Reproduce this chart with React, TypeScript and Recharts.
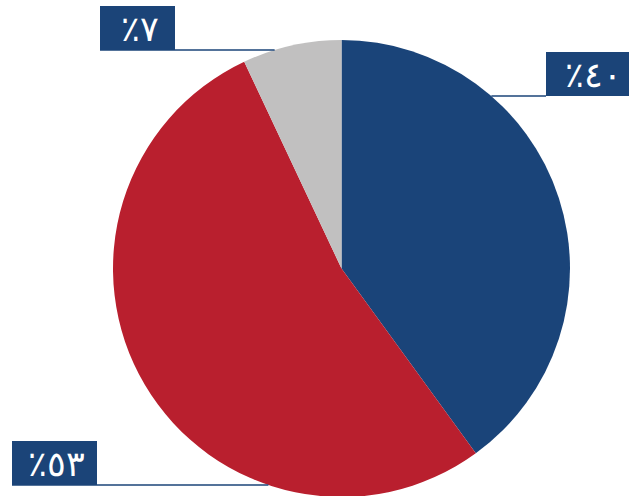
import { Cell, Pie, PieChart } from "recharts";

const shares = ["blue", "red", "gray"];
const shareValues = [40, 53, 7];
const shareColors = ["#1A4479", "#B91F2E", "#C1C0C0"];

const W = 629;
const H = 496;
const BOX_FILL = "#1B4478";

// label boxes, offsets from the pie centre; lineDy is the underline / leader height
const labelLayout = [
  { side: 1, lineDy: -172.5, boxDx: 204.5, boxW: 90 },
  { side: -1, lineDy: 216.5, boxDx: -329.5, boxW: 85 },
  { side: -1, lineDy: -218.5, boxDx: -241.5, boxW: 75 },
];

const arabicDigits = "٠١٢٣٤٥٦٧٨٩";
const toArabic = (n: number) =>
  String(n)
    .split("")
    .map((d) => arabicDigits[Number(d)])
    .join("");

const data = shares.map((name, i) => ({ name, value: shareValues[i] }));

function renderLabel(props: any) {
  const { cx, cy, outerRadius, index, value } = props;
  const l = labelLayout[index];
  const lineY = cy + l.lineDy;
  const edgeX = cx + l.side * Math.sqrt(Math.max(outerRadius * outerRadius - l.lineDy * l.lineDy, 0));
  const boxX = cx + l.boxDx;
  const boxH = 44;
  const lineStart = l.side > 0 ? edgeX : boxX;
  const lineEnd = l.side > 0 ? boxX : edgeX;
  return (
    <g key={`lbl-${index}`}>
      <line x1={lineStart} y1={lineY} x2={lineEnd} y2={lineY} stroke={BOX_FILL} strokeWidth={1.5} />
      <rect x={boxX} y={lineY - boxH} width={l.boxW} height={boxH} fill={BOX_FILL} />
      <text
        x={boxX + l.boxW / 2 + 2}
        y={lineY - boxH / 2 + 1}
        textAnchor="middle"
        dominantBaseline="central"
        fill="#fff"
        fontSize={35}
        fontWeight={300}
        fontFamily="DejaVu Sans"
      >
        {"٪" + toArabic(value)}
      </text>
    </g>
  );
}

export default function App() {
  return (
    <div style={{ position: "absolute", left: 0, top: 0, width: W, height: H, background: "#fff" }}>
      <PieChart width={W} height={H} margin={{ top: 0, right: 0, bottom: 0, left: 0 }}>
        <Pie
          data={data}
          dataKey="value"
          nameKey="name"
          cx={341.5}
          cy={268.5}
          outerRadius={228.5}
          startAngle={90}
          endAngle={-270}
          stroke="none"
          label={renderLabel}
          labelLine={false}
          isAnimationActive={false}
        >
          {data.map((d, i) => (
            <Cell key={d.name} fill={shareColors[i]} />
          ))}
        </Pie>
      </PieChart>
    </div>
  );
}
